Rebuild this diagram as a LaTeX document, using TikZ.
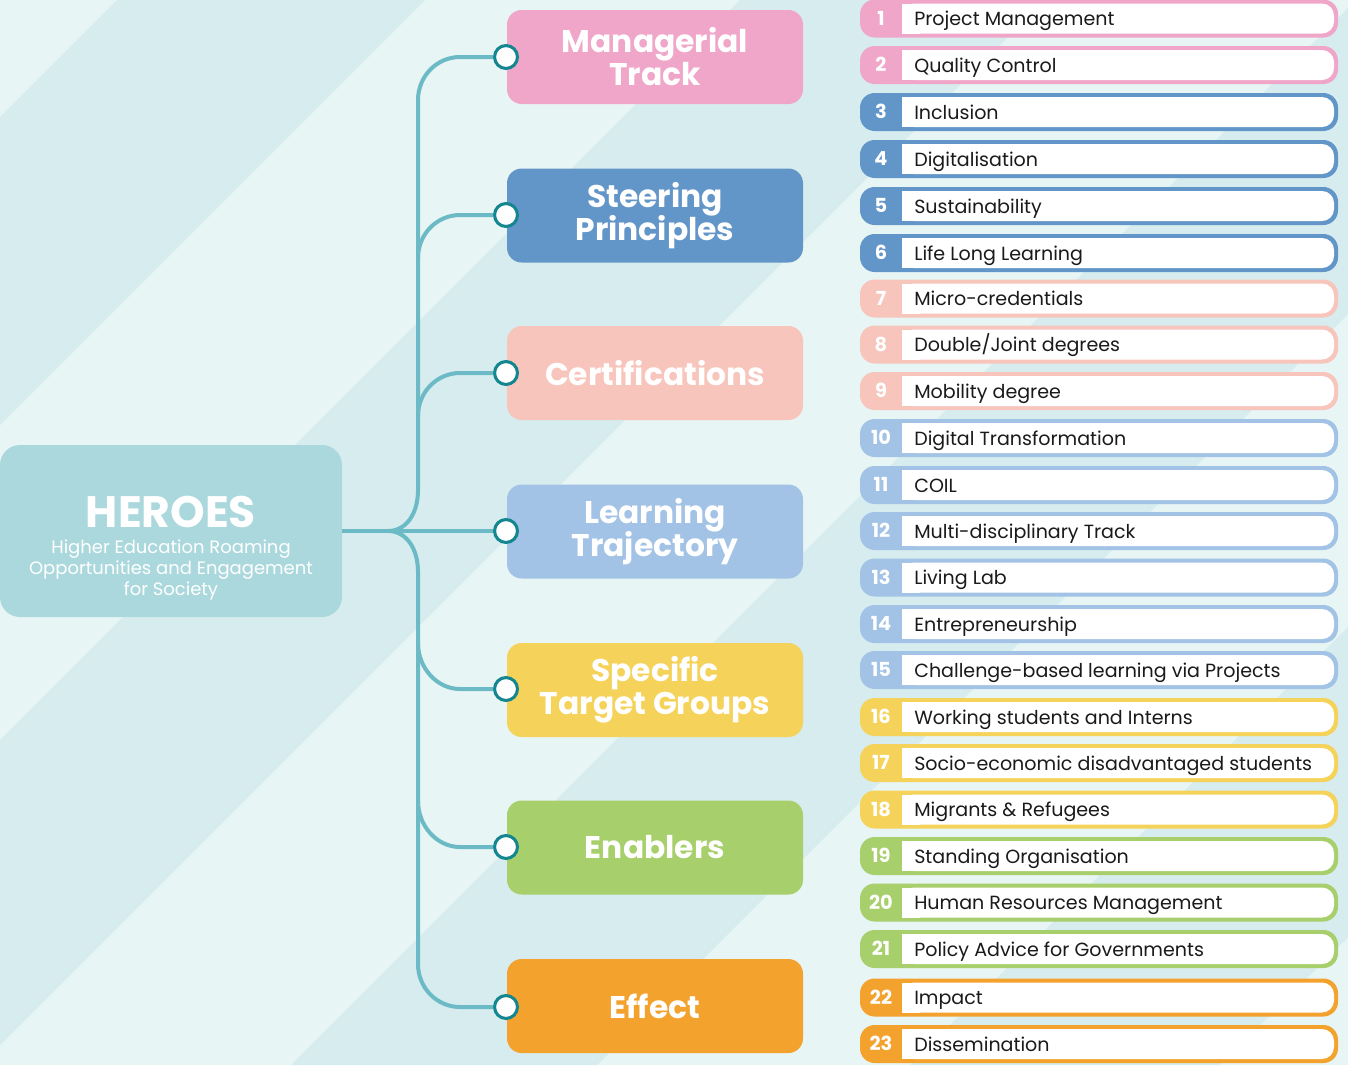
\documentclass[tikz,border=0pt]{standalone}
\usepackage{fontspec}
\setmainfont{Poppins}
\definecolor{bgL}{HTML}{E8F5F5}
\definecolor{bgD}{HTML}{D6ECEE}
\definecolor{heroC}{HTML}{ABD8DD}
\definecolor{lineC}{HTML}{6CBAC5}
\definecolor{dotC}{HTML}{14868F}
\definecolor{pinkC}{HTML}{F0A6C9}
\definecolor{steerC}{HTML}{6396C8}
\definecolor{salmonC}{HTML}{F7C5BC}
\definecolor{lblueC}{HTML}{A2C3E5}
\definecolor{yellowC}{HTML}{F5D35B}
\definecolor{greenC}{HTML}{A7CF6B}
\definecolor{orangeC}{HTML}{F4A22E}
\definecolor{txtC}{HTML}{1A1A1A}
\newcommand\tightlines{\lineskiplimit-50pt\relax}
\tikzset{
 conn/.style={line width=3pt, draw=lineC},
 dot/.style={circle, fill=white, draw=dotC, line width=2.3pt, minimum size=17.2pt, inner sep=0pt},
 cat/.style={rounded corners=11pt, minimum width=222pt, minimum height=70.5pt, text=white, align=center,
   font=\bfseries\fontsize{23.5}{24.75}\selectfont\tightlines, inner sep=0pt},
 num/.style={text=white, font=\bfseries\fontsize{14.5}{15}\selectfont, anchor=base, inner sep=0pt},
 lab/.style={text=txtC, font=\fontsize{14.3}{16}\selectfont, anchor=base west, inner sep=0pt},
}
\newcommand\heroitem[4]{%
  \fill[#3, rounded corners=11pt] (860,#2-19) rectangle (1338,#2+19);
  \fill[white, rounded corners=9pt] (902,#2-15) rectangle (1334,#2+15);
  \fill[white] (902,#2-15) rectangle (920,#2+15);
  \node[num] (n#1) at (881,#2+6.5) {#1};
  \node[lab] (t#1) at (914,#2+7) {#4};
}
\begin{document}
\begin{tikzpicture}[x=0.75pt,y=-0.75pt]
\useasboundingbox (0,0) rectangle (1348,1065);
% background
\fill[bgL] (0,0) rectangle (1348,1065);
\begin{scope}
\clip (0,0) rectangle (1348,1065);
\foreach \a/\b in {117/425, 740/1045, 1356/1662, 1975/2285}{
  \fill[bgD] (\a,0) -- (\b,0) -- (\b-1065,1065) -- (\a-1065,1065) -- cycle;
}
\end{scope}
% hero
\node[fill=heroC, rounded corners=15pt, minimum width=256.5pt, minimum height=129pt, inner sep=0pt] (hero) at (171,531) {};
\node[text=white, font=\bfseries\fontsize{33}{33}\selectfont, anchor=base, inner sep=0pt] (heroT) at (171,527) {HEROES};
\node[text=white, font=\fontsize{13.5}{15.75}\selectfont\tightlines, align=center, inner sep=0pt] (heroS) at (171,570)
  {Higher Education Roaming\\Opportunities and Engagement\\for Society};
% categories
\node[cat, fill=pinkC]   (c1) at (655,57)   {Managerial\\Track};
\node[cat, fill=steerC]  (c2) at (655,215.5){Steering\\Principles};
\node[cat, fill=salmonC] (c3) at (655,373)  {Certifications};
\node[cat, fill=lblueC]  (c4) at (655,531.5){Learning\\Trajectory};
\node[cat, fill=yellowC] (c5) at (655,690)  {Specific\\Target Groups};
\node[cat, fill=greenC]  (c6) at (655,847.5){Enablers};
\node[cat, fill=orangeC] (c7) at (655,1006) {Effect};
% dots
\node[dot] (d1) at (506,57) {};
\node[dot] (d2) at (506,215) {};
\node[dot] (d3) at (506,373) {};
\node[dot] (d4) at (506,531) {};
\node[dot] (d5) at (506,689) {};
\node[dot] (d6) at (506,847) {};
\node[dot] (d7) at (506,1007) {};
% connectors
\coordinate (j) at (388,531);
\draw[conn] (hero.east) -- (d4);
\draw[conn] (j) .. controls (406,531) and (418,514) .. (418,490) -- (418,100)
   .. controls (418,76) and (437,57) .. (460,57) -- (d1);
\draw[conn] (j) .. controls (406,531) and (418,548) .. (418,572) -- (418,964)
   .. controls (418,988) and (437,1007) .. (460,1007) -- (d7);
\draw[conn] (418,258) .. controls (418,234) and (437,215) .. (460,215) -- (d2);
\draw[conn] (418,416) .. controls (418,392) and (437,373) .. (460,373) -- (d3);
\draw[conn] (418,643) .. controls (418,668) and (437,689) .. (460,689) -- (d5);
\draw[conn] (418,801) .. controls (418,826) and (437,847) .. (460,847) -- (d6);
% list
\heroitem{1}{18.5}{pinkC}{Project Management}
\heroitem{2}{65}{pinkC}{Quality Control}
\heroitem{3}{112}{steerC}{Inclusion}
\heroitem{4}{159}{steerC}{Digitalisation}
\heroitem{5}{206}{steerC}{Sustainability}
\heroitem{6}{253}{steerC}{Life Long Learning}
\heroitem{7}{298.5}{salmonC}{Micro-credentials}
\heroitem{8}{344.5}{salmonC}{Double/Joint degrees}
\heroitem{9}{391}{salmonC}{Mobility degree}
\heroitem{10}{438}{lblueC}{Digital Transformation}
\heroitem{11}{485}{lblueC}{COIL}
\heroitem{12}{531}{lblueC}{Multi-disciplinary Track}
\heroitem{13}{577.5}{lblueC}{Living Lab}
\heroitem{14}{624}{lblueC}{Entrepreneurship}
\heroitem{15}{670}{lblueC}{Challenge-based learning via Projects}
\heroitem{16}{717}{yellowC}{Working students and Interns}
\heroitem{17}{763}{yellowC}{Socio-economic disadvantaged students}
\heroitem{18}{809.5}{yellowC}{Migrants \& Refugees}
\heroitem{19}{856}{greenC}{Standing Organisation}
\heroitem{20}{902.5}{greenC}{Human Resources Management}
\heroitem{21}{949}{greenC}{Policy Advice for Governments}
\heroitem{22}{997.5}{orangeC}{Impact}
\heroitem{23}{1044}{orangeC}{Dissemination}
\end{tikzpicture}
\end{document}
